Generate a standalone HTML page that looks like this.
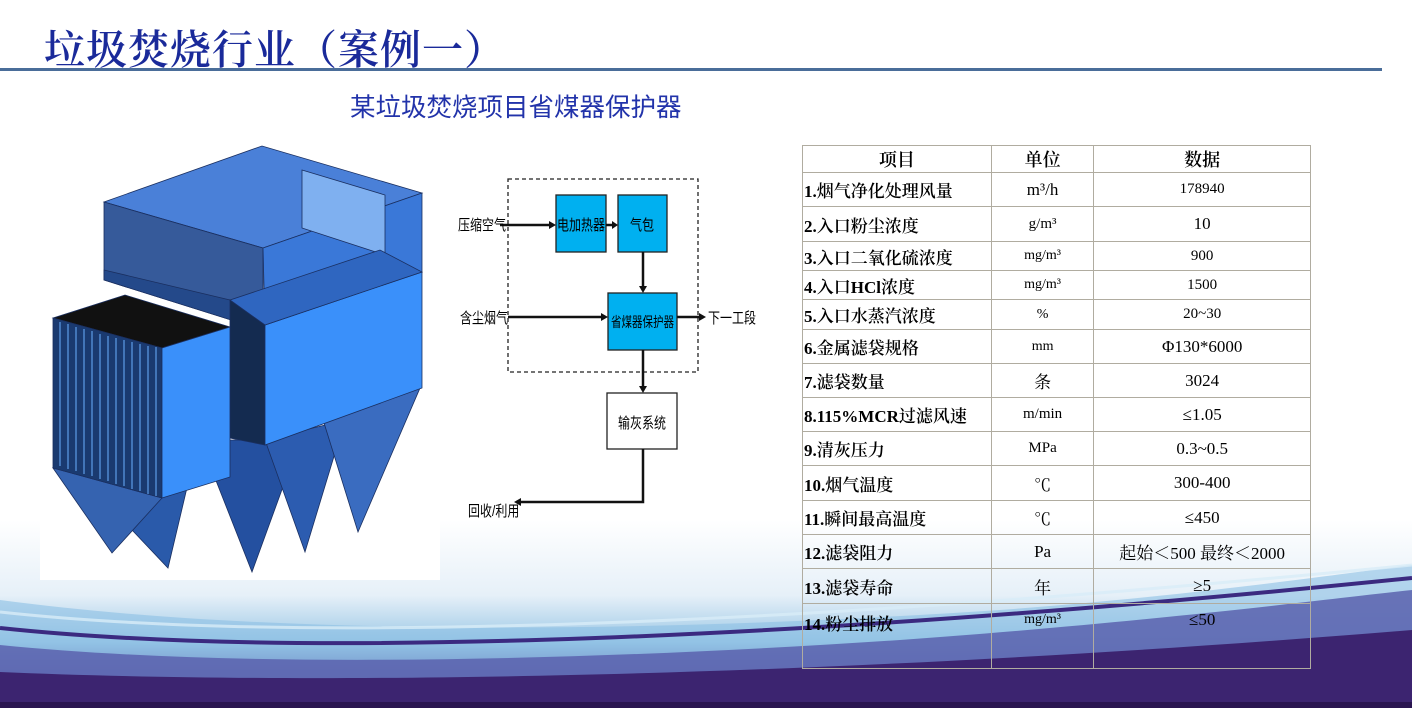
<!DOCTYPE html>
<html><head><meta charset="utf-8"><style>
html,body{margin:0;padding:0}
body{width:1412px;height:708px;position:relative;overflow:hidden;background:#fff;font-family:"Liberation Serif","Noto Serif CJK SC",serif}
.t{position:absolute;white-space:nowrap}
table{position:absolute;left:802px;top:145px;border-collapse:collapse;width:509px;font-family:"Liberation Serif","Noto Serif CJK SC",serif;color:#000}
td{border:1.5px solid #b0aca0;padding:0;font-size:17px;text-align:center;white-space:nowrap;overflow:hidden}
td.l{text-align:left;padding-left:1px;font-weight:600}
.fc{font-family:"Liberation Sans","Noto Sans CJK SC",sans-serif;font-size:15px;transform:scaleX(.8);transform-origin:left center}
</style></head><body>
<svg width="1412" height="708" style="position:absolute;left:0;top:0">
<defs>
<linearGradient id="bg" x1="0" y1="0" x2="0" y2="1">
<stop offset="0" stop-color="#ffffff"/><stop offset=".4" stop-color="#e6f0f8"/><stop offset=".65" stop-color="#9cc8e6"/><stop offset=".82" stop-color="#5a5eaa"/><stop offset="1" stop-color="#3a1f6a"/></linearGradient>
</defs>
<rect x="0" y="520" width="1412" height="188" fill="url(#bg)"/>
<path d="M0 600 C300 640 700 630 1000 610 C1200 595 1330 575 1412 565 L1412 708 L0 708Z" fill="#8cc0e4" opacity=".6"/>
<path d="M0 645 C250 670 600 660 900 640 C1150 622 1320 600 1412 590 L1412 708 L0 708Z" fill="#5a62ae" opacity=".85"/>
<path d="M0 672 C300 685 800 680 1412 630 L1412 708 L0 708Z" fill="#3c2470"/>
<path d="M0 628 C300 660 800 640 1412 578" stroke="#3b2a80" stroke-width="4" fill="none"/>
<path d="M0 612 C300 645 800 625 1412 565" stroke="#d8ecf8" stroke-width="3" fill="none" opacity=".8"/>
<rect x="0" y="702" width="1412" height="6" fill="#2a1550"/>
<rect x="0" y="68" width="1382" height="3" fill="#4a6d99"/>
<rect x="40" y="140" width="400" height="440" fill="#fff"/>
<!-- equipment -->
<g stroke="#1a2f60" stroke-width="0.8">
<polygon points="104,202 262,146 422,193 263,248" fill="#4a80d8"/>
<polygon points="104,202 263,248 263,330 104,280" fill="#365a9a"/>
<polygon points="263,248 422,193 422,272 265,325" fill="#3a78d8"/>
<polygon points="302,170 385,195 385,255 302,228" fill="#7fb0f0"/>
<polygon points="104,280 263,330 230,300 104,270" fill="#24498a"/>
<polygon points="80,475 190,475 168,568" fill="#2a5aaa"/>
<polygon points="53,468 162,498 112,553" fill="#3563b0"/>
<polygon points="200,440 300,440 252,572" fill="#2450a0"/>
<polygon points="265,440 345,420 305,552" fill="#2c5cb0"/>
<polygon points="320,410 420,388 358,532" fill="#3a6cc0"/>
<polygon points="230,300 265,325 265,445 230,438" fill="#142b50"/>
<polygon points="265,325 422,272 422,388 265,445" fill="#3a90fa"/>
<polygon points="230,300 380,250 422,272 265,325" fill="#2f66c0"/>
<polygon points="53,318 125,295 230,327 162,348" fill="#111"/>
<polygon points="53,318 162,348 162,498 53,468" fill="#1a3a70"/>
<polygon points="162,348 230,327 230,477 162,498" fill="#3a90fa"/>
</g>
<g stroke="#6ab0ff" stroke-width="1">
<line x1="60" y1="322" x2="60" y2="466"/><line x1="68" y1="324" x2="68" y2="469"/><line x1="76" y1="327" x2="76" y2="471"/><line x1="84" y1="329" x2="84" y2="474"/><line x1="92" y1="331" x2="92" y2="476"/><line x1="100" y1="334" x2="100" y2="479"/><line x1="108" y1="336" x2="108" y2="481"/><line x1="116" y1="338" x2="116" y2="484"/><line x1="124" y1="340" x2="124" y2="486"/><line x1="132" y1="342" x2="132" y2="489"/><line x1="140" y1="344" x2="140" y2="491"/><line x1="148" y1="346" x2="148" y2="494"/><line x1="156" y1="347" x2="156" y2="496"/>
</g>
<!-- flowchart -->
<rect x="508" y="179" width="190" height="193" fill="none" stroke="#222" stroke-width="1.3" stroke-dasharray="4,3"/>
<rect x="556" y="195" width="50" height="57" fill="#00b0f0" stroke="#222" stroke-width="1.3"/>
<rect x="618" y="195" width="49" height="57" fill="#00b0f0" stroke="#222" stroke-width="1.3"/>
<rect x="608" y="293" width="69" height="57" fill="#00b0f0" stroke="#222" stroke-width="1.3"/>
<rect x="607" y="393" width="70" height="56" fill="#fff" stroke="#222" stroke-width="1.3"/>
<g stroke="#111" stroke-width="2.5" fill="none">
<line x1="500" y1="225" x2="551" y2="225"/><line x1="606" y1="225" x2="613" y2="225"/>
<line x1="643" y1="252" x2="643" y2="288"/><line x1="508" y1="317" x2="603" y2="317"/>
<line x1="677" y1="317" x2="701" y2="317"/><line x1="643" y1="350" x2="643" y2="388"/>
<polyline points="643,449 643,502 520,502"/>
</g>
<g fill="#111">
<polygon points="556,225 549,221 549,229"/><polygon points="618,225 612,221 612,229"/>
<polygon points="643,293 639,286 647,286"/><polygon points="608,317 601,313 601,321"/>
<polygon points="706,317 699,313 699,321"/><polygon points="643,393 639,386 647,386"/>
<polygon points="514,502 521,498 521,506"/>
</g>
</svg>
<div class="t" style="left:44px;top:17px;font-size:41px;color:#1a2a9a;letter-spacing:1px;font-weight:600">垃圾焚烧行业（案例一）</div>
<div class="t" style="left:350px;top:87px;font-size:25.5px;color:#2233aa;font-family:'Liberation Sans','Noto Sans CJK SC',sans-serif">某垃圾焚烧项目省煤器保护器</div>
<div class="t fc" style="left:458px;top:214px">压缩空气</div>
<div class="t fc" style="left:557px;top:214px">电加热器</div>
<div class="t fc" style="left:630px;top:214px">气包</div>
<div class="t fc" style="left:460px;top:307px">含尘烟气</div>
<div class="t fc" style="left:611px;top:312px;font-size:14px;transform:scaleX(.75)">省煤器保护器</div>
<div class="t fc" style="left:708px;top:307px">下一工段</div>
<div class="t fc" style="left:618px;top:412px">输灰系统</div>
<div class="t fc" style="left:468px;top:500px">回收/利用</div>
<table>
<colgroup><col style="width:189px"><col style="width:103px"><col style="width:217px"></colgroup>
<tr style="height:25px"><td style="font-size:18px;font-weight:600">项目</td><td style="font-size:18px;font-weight:600">单位</td><td style="font-size:18px;font-weight:600">数据</td></tr>
<tr style="height:34px"><td class="l">1.烟气净化处理风量</td><td>m³/h</td><td style="font-size:15px">178940</td></tr>
<tr style="height:35px"><td class="l">2.入口粉尘浓度</td><td style="font-size:15px">g/m³</td><td>10</td></tr>
<tr style="height:29px"><td class="l">3.入口二氧化硫浓度</td><td style="font-size:14px">mg/m³</td><td style="font-size:15px">900</td></tr>
<tr style="height:29px"><td class="l">4.入口HCl浓度</td><td style="font-size:14px">mg/m³</td><td style="font-size:15px">1500</td></tr>
<tr style="height:30px"><td class="l">5.入口水蒸汽浓度</td><td style="font-size:14px">%</td><td style="font-size:15px">20~30</td></tr>
<tr style="height:34px"><td class="l">6.金属滤袋规格</td><td style="font-size:14px">mm</td><td>Φ130*6000</td></tr>
<tr style="height:34px"><td class="l">7.滤袋数量</td><td>条</td><td>3024</td></tr>
<tr style="height:34px"><td class="l">8.115%MCR过滤风速</td><td style="font-size:15px">m/min</td><td>≤1.05</td></tr>
<tr style="height:34px"><td class="l">9.清灰压力</td><td style="font-size:15px">MPa</td><td>0.3~0.5</td></tr>
<tr style="height:35px"><td class="l">10.烟气温度</td><td>℃</td><td>300-400</td></tr>
<tr style="height:34px"><td class="l">11.瞬间最高温度</td><td>℃</td><td>≤450</td></tr>
<tr style="height:34px"><td class="l">12.滤袋阻力</td><td>Pa</td><td style="font-size:17px">起始＜500 最终＜2000</td></tr>
<tr style="height:35px"><td class="l">13.滤袋寿命</td><td>年</td><td>≥5</td></tr>
<tr style="height:65px"><td class="l" style="vertical-align:top;padding-top:6px">14.粉尘排放</td><td style="vertical-align:top;padding-top:8px;font-size:14px">mg/m³</td><td style="vertical-align:top;padding-top:6px">≤50</td></tr>
</table>
</body></html>
